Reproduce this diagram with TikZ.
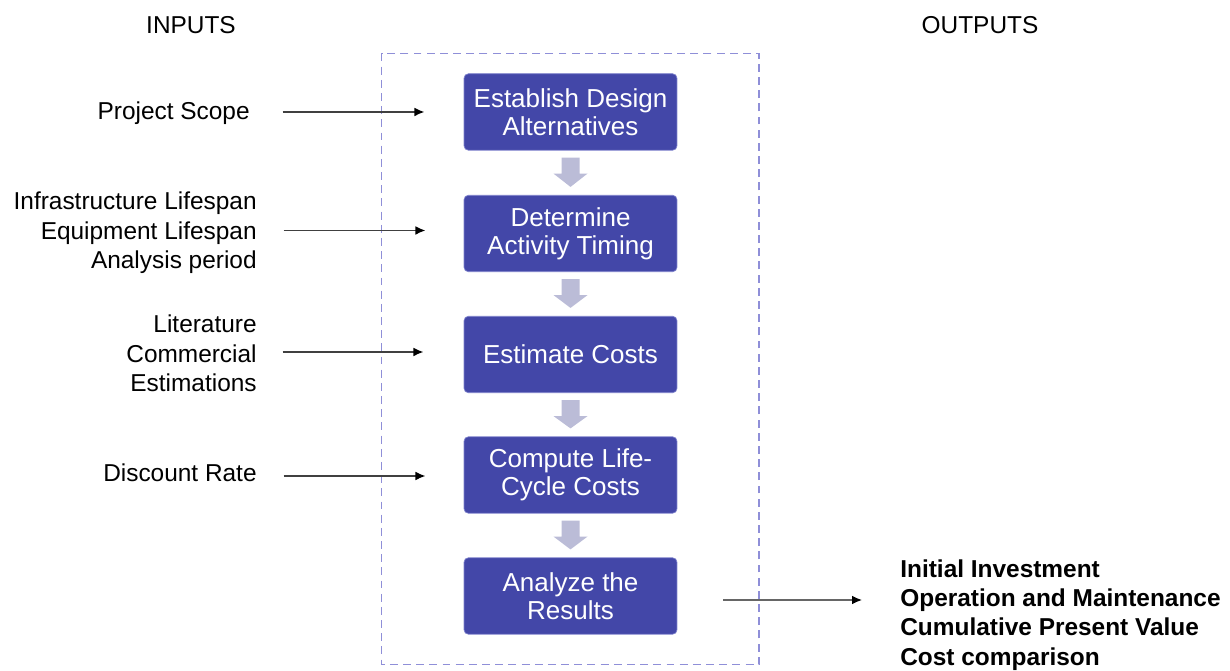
\documentclass[tikz,border=0pt]{standalone}
\usepackage{fontspec}
\setmainfont{Liberation Sans}
\usetikzlibrary{calc,arrows.meta}
\definecolor{stepblue}{HTML}{4347A8}
\definecolor{stepedge}{HTML}{7E82CC}
\definecolor{flowgray}{HTML}{BBBCD7}
\definecolor{framelav}{HTML}{8F8FD8}
\begin{document}
\begin{tikzpicture}[x=0.02cm,y=-0.02cm,
  stepbox/.style={fill=stepblue,draw=stepedge,line width=0.4pt,rounded corners=2.5pt,
    minimum width=4.26cm,minimum height=1.53cm,align=center,text=white,
    font=\fontsize{14.8}{15.9}\selectfont,inner sep=0pt},
  inlabel/.style={anchor=east,align=right,inner sep=0pt,font=\fontsize{13.9}{16.7}\selectfont},
  outlabel/.style={anchor=west,align=left,inner sep=0pt,font=\bfseries\fontsize{13.9}{16.6}\selectfont},
  head/.style={inner sep=0pt,font=\fontsize{13.9}{16.7}\selectfont},
  inarrow/.style={-{Latex[length=5.8pt,width=5pt,black]},line width=1.1pt,black!75},
  outarrow/.style={-{Latex[length=5.8pt,width=5pt,black]},line width=1.3pt,black!60},
  frame/.style={draw=framelav,line width=1.1pt,dash pattern=on 4.5pt off 3pt}]
\useasboundingbox (0,0) rectangle (1230,671);

% dashed frame around the process
\draw[frame] (381.5,53.5) rectangle (759,664.5);

% headings
\node[head] (hin) at (191,25) {INPUTS};
\node[head] (hout) at (980,25) {OUTPUTS};

% process steps
\node[stepbox] (b1) at (570.5,112) {Establish Design\\Alternatives};
\node[stepbox] (b2) at (570.5,233.5) {Determine\\Activity Timing};
\node[stepbox] (b3) at (570.5,354.5) {Estimate Costs};
\node[stepbox] (b4) at (570.5,475) {Compute Life-\\Cycle Costs};
\node[stepbox] (b5) at (570.5,596) {Analyze the\\Results};

% block arrows between steps
\foreach \a/\b in {b1/b2,b2/b3,b3/b4,b4/b5}{
  \fill[flowgray] ($(\a.south)+(-9,7)$) -- ($(\a.south)+(9,7)$) -- ($(\a.south)+(9,23)$)
    -- ($(\a.south)+(17,23)$) -- ($(\b.north)+(0,-8)$) -- ($(\a.south)+(-17,23)$)
    -- ($(\a.south)+(-9,23)$) -- cycle;
}

% inputs
\node[inlabel] (i1) at (250,113) {Project Scope};
\node[inlabel] (i2) at (257,233) {Infrastructure Lifespan\\Equipment Lifespan\\Analysis period};
\node[inlabel] (i3) at (257,353.5) {Literature\\Commercial\\Estimations};
\node[inlabel] (i4) at (257,473) {Discount Rate};

\draw[inarrow] ($(b1.west)+(-181,0)$) -- ($(b1.west)+(-39,0)$);
\draw[inarrow] ($(b2.west)+(-180,-3)$) -- ($(b2.west)+(-38,-3)$);
\draw[inarrow] ($(b3.west)+(-181,-2.5)$) -- ($(b3.west)+(-40,-2.5)$);
\draw[inarrow] ($(b4.west)+(-180,1)$) -- ($(b4.west)+(-38,1)$);

% outputs
\node[outlabel] (o1) at (900,615) {Initial Investment\\Operation and Maintenance\\Cumulative Present Value\\Cost comparison};
\draw[outarrow] ($(b5.east)+(46,4)$) -- ($(b5.east)+(185,4)$);
\end{tikzpicture}
\end{document}
